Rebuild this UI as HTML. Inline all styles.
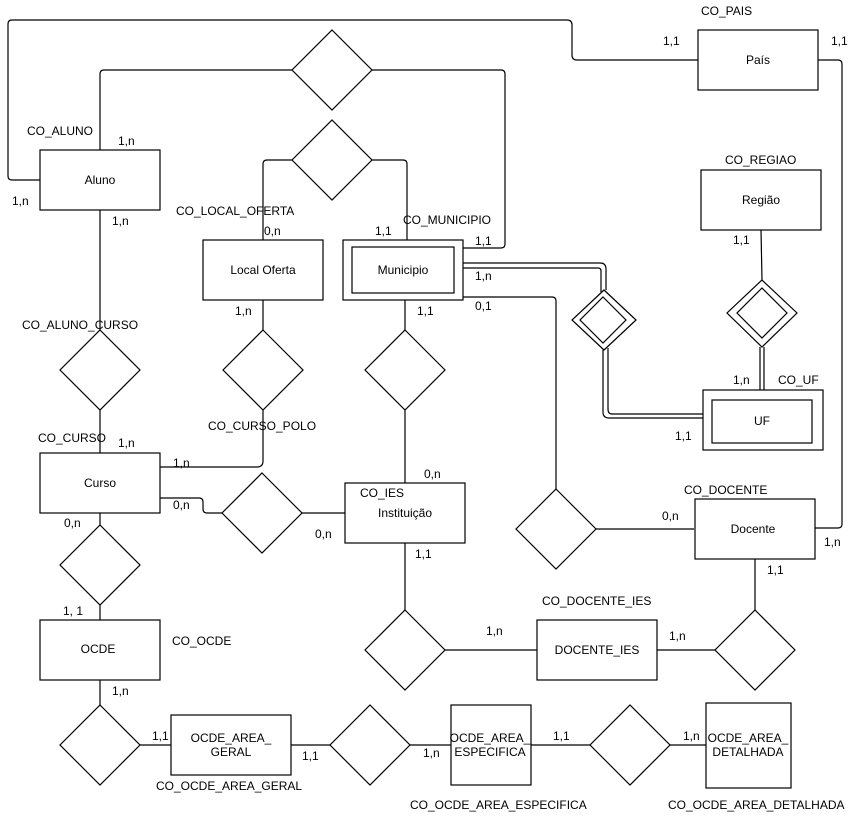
<!DOCTYPE html>
<html><head><meta charset="utf-8"><style>
html,body{margin:0;padding:0;background:#fff;}
svg{display:block;}
text{font-family:"Liberation Sans",sans-serif;font-size:12px;fill:#000;}
.c{text-anchor:middle;}
</style></head><body>
<svg width="859" height="817" viewBox="0 0 859 817" xmlns="http://www.w3.org/2000/svg">
<g fill="none" stroke="#000" stroke-width="1.2">
<!-- connectors -->
<path d="M40,180 H12 Q8,180 8,176 V24 Q8,20 12,20 H567 Q572,20 572,25 V55 Q572,60 577,60 H698"/>
<path d="M100,150 V74 Q100,70 104,70 H292 M372,70 H501 Q505,70 505,74 V244 Q505,248 501,248 H463"/>
<path d="M263,240 V164 Q263,160 267,160 H292 M372,160 H403 Q407,160 407,164 V240"/>
<path d="M818,60 H838 Q842,60 842,64 V524 Q842,528 838,528 H814"/>
<path d="M463,263 H600 Q606,263 606,269 V290 M463,268 H598 Q601,268 601,271 V292"/>
<path d="M603,350 V412 Q603,418 609,418 H703 M608,348 V409 Q608,414 612,414 H703"/>
<path d="M463,297 H552 Q556,297 556,301 V489 M596,529 H694"/>
<path d="M761,230 L762,280 M760,347 V390 M764,347 V390"/>
<path d="M100,210 V330 M100,410 V453"/>
<path d="M263,300 V330 M263,410 V461 Q263,467 257,467 H160"/>
<path d="M405,300 V330 M405,410 V483"/>
<path d="M160,498 H199 Q203,498 203,502 V509 Q203,513 207,513 H222 M302,513 H345"/>
<path d="M100,513 V525 M100,605 V620"/>
<path d="M405,543 V610 M445,650 H537 M657,650 H715 M755,610 V559"/>
<path d="M100,680 V705 M140,745 H171 M291,745 H330 M410,745 H451 M531,745 H590 M670,745 H706"/>
</g>
<g fill="#fff" stroke="#000" stroke-width="1.2">
<!-- entities -->
<rect x="40" y="150" width="120" height="60"/>
<rect x="203" y="240" width="120" height="60"/>
<rect x="343" y="240" width="120" height="60"/>
<rect x="352" y="247" width="102" height="46"/>
<rect x="698" y="30" width="120" height="60"/>
<rect x="701" y="170" width="120" height="60"/>
<rect x="703" y="390" width="120" height="60"/>
<rect x="712" y="400" width="100" height="43"/>
<rect x="40" y="453" width="120" height="60"/>
<rect x="345" y="483" width="120" height="60"/>
<rect x="695" y="499" width="120" height="60"/>
<rect x="40" y="620" width="120" height="60"/>
<rect x="537" y="620" width="120" height="60"/>
<rect x="171" y="715" width="120" height="60"/>
<rect x="451" y="705" width="80" height="80"/>
<rect x="706" y="703" width="85" height="85"/>
<!-- diamonds -->
<polygon points="332,30 372,70 332,110 292,70"/>
<polygon points="332,120 372,160 332,200 292,160"/>
<polygon points="100,330 140,370 100,410 60,370"/>
<polygon points="263,330 303,370 263,410 223,370"/>
<polygon points="405,330 445,370 405,410 365,370"/>
<polygon points="604,290 636,320 604,350 572,320"/>
<polygon points="603,297 626,320 603,343 580,320"/>
<polygon points="762,280 797,313 762,347 727,313"/>
<polygon points="762,288 787,313 762,338 737,313"/>
<polygon points="262,473 302,513 262,553 222,513"/>
<polygon points="556,489 596,529 556,569 516,529"/>
<polygon points="100,525 140,565 100,605 60,565"/>
<polygon points="405,610 445,650 405,690 365,650"/>
<polygon points="755,610 795,650 755,690 715,650"/>
<polygon points="100,705 140,745 100,785 60,745"/>
<polygon points="370,705 410,745 370,785 330,745"/>
<polygon points="630,705 670,745 630,785 590,745"/>
</g>
<g>
<text class="c" x="100" y="184">Aluno</text>
<text class="c" x="263" y="274">Local Oferta</text>
<text class="c" x="403" y="274">Municipio</text>
<text class="c" x="758" y="64">País</text>
<text class="c" x="761" y="204">Região</text>
<text class="c" x="762" y="425">UF</text>
<text class="c" x="100" y="487">Curso</text>
<text class="c" x="405" y="517">Instituição</text>
<text class="c" x="753" y="533">Docente</text>
<text class="c" x="98" y="653">OCDE</text>
<text class="c" x="597" y="654">DOCENTE_IES</text>
<text class="c" x="231" y="742">OCDE_AREA_</text>
<text class="c" x="231" y="756">GERAL</text>
<text class="c" x="490" y="742">OCDE_AREA_</text>
<text class="c" x="490" y="756">ESPECIFICA</text>
<text class="c" x="748" y="742">OCDE_AREA_</text>
<text class="c" x="748" y="756">DETALHADA</text>

<text x="27" y="135">CO_ALUNO</text>
<text x="118" y="145">1,n</text>
<text x="12" y="205">1,n</text>
<text x="112" y="225">1,n</text>
<text x="176" y="215">CO_LOCAL_OFERTA</text>
<text x="264" y="235">0,n</text>
<text x="375" y="235">1,1</text>
<text x="403" y="224">CO_MUNICIPIO</text>
<text x="475" y="245">1,1</text>
<text x="475" y="280">1,n</text>
<text x="475" y="310">0,1</text>
<text x="417" y="315">1,1</text>
<text x="235" y="315">1,n</text>
<text x="22" y="329">CO_ALUNO_CURSO</text>
<text x="701" y="15">CO_PAIS</text>
<text x="663" y="45">1,1</text>
<text x="831" y="45">1,1</text>
<text x="725" y="164">CO_REGIAO</text>
<text x="733" y="244">1,1</text>
<text x="733" y="384">1,n</text>
<text x="778" y="384">CO_UF</text>
<text x="675" y="440">1,1</text>
<text x="208" y="430">CO_CURSO_POLO</text>
<text x="38" y="442">CO_CURSO</text>
<text x="118" y="447">1,n</text>
<text x="173" y="467">1,n</text>
<text x="173" y="509">0,n</text>
<text x="64" y="527">0,n</text>
<text x="424" y="478">0,n</text>
<text x="360" y="497">CO_IES</text>
<text x="315" y="538">0,n</text>
<text x="415" y="558">1,1</text>
<text x="684" y="494">CO_DOCENTE</text>
<text x="662" y="520">0,n</text>
<text x="824" y="546">1,n</text>
<text x="767" y="574">1,1</text>
<text x="542" y="605">CO_DOCENTE_IES</text>
<text x="486" y="635">1,n</text>
<text x="669" y="640">1,n</text>
<text x="63" y="615">1, 1</text>
<text x="172" y="645">CO_OCDE</text>
<text x="112" y="695">1,n</text>
<text x="152" y="740">1,1</text>
<text x="302" y="760">1,1</text>
<text x="423" y="757">1,n</text>
<text x="156" y="790">CO_OCDE_AREA_GERAL</text>
<text x="553" y="740">1,1</text>
<text x="683" y="740">1,n</text>
<text x="410" y="809">CO_OCDE_AREA_ESPECIFICA</text>
<text x="668" y="809">CO_OCDE_AREA_DETALHADA</text>
</g>
</svg>
</body></html>
